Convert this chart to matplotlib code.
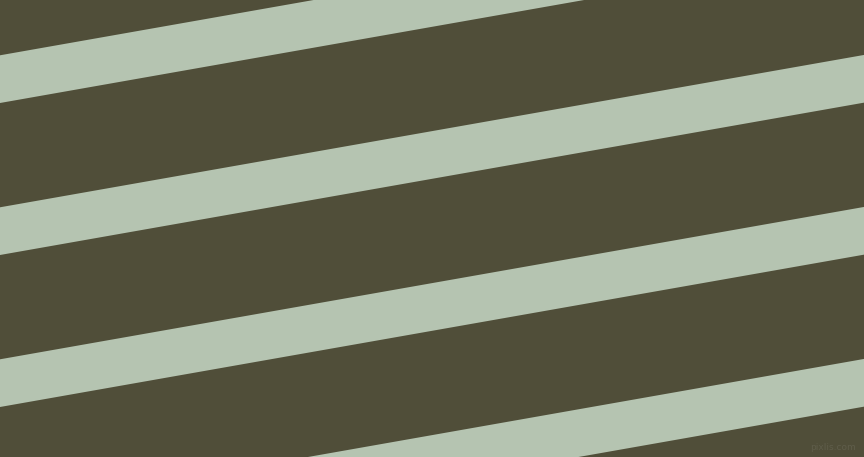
import matplotlib
matplotlib.use("Agg")
import matplotlib.pyplot as plt
import numpy as np

# stripe geometry (pixels)
stripe_top_at_left = [55.3, 207.3, 359.3, 511.3]
stripe_height = 47.7
slope = np.tan(np.radians(10))

bg_color = "#504e39"
stripe_color = "#b5c4b1"

W, H = 864, 457

fig = plt.figure(figsize=(W / 100, H / 100), dpi=100)
ax = fig.add_axes([0, 0, 1, 1])
ax.set_facecolor(bg_color)
ax.set_xlim(0, W)
ax.set_ylim(H, 0)
ax.axis("off")
fig.patch.set_facecolor(bg_color)

xs = np.array([0, W])
for y0 in stripe_top_at_left:
    top = y0 - slope * xs
    ax.fill_between(xs, top, top + stripe_height, color=stripe_color, linewidth=0)

# faint watermark
ax.text(856, 447, "pixlis.com", color="#5f5d4a", fontsize=6.5,
        ha="right", va="center")

fig.savefig("out.png", dpi=100, facecolor=bg_color)
